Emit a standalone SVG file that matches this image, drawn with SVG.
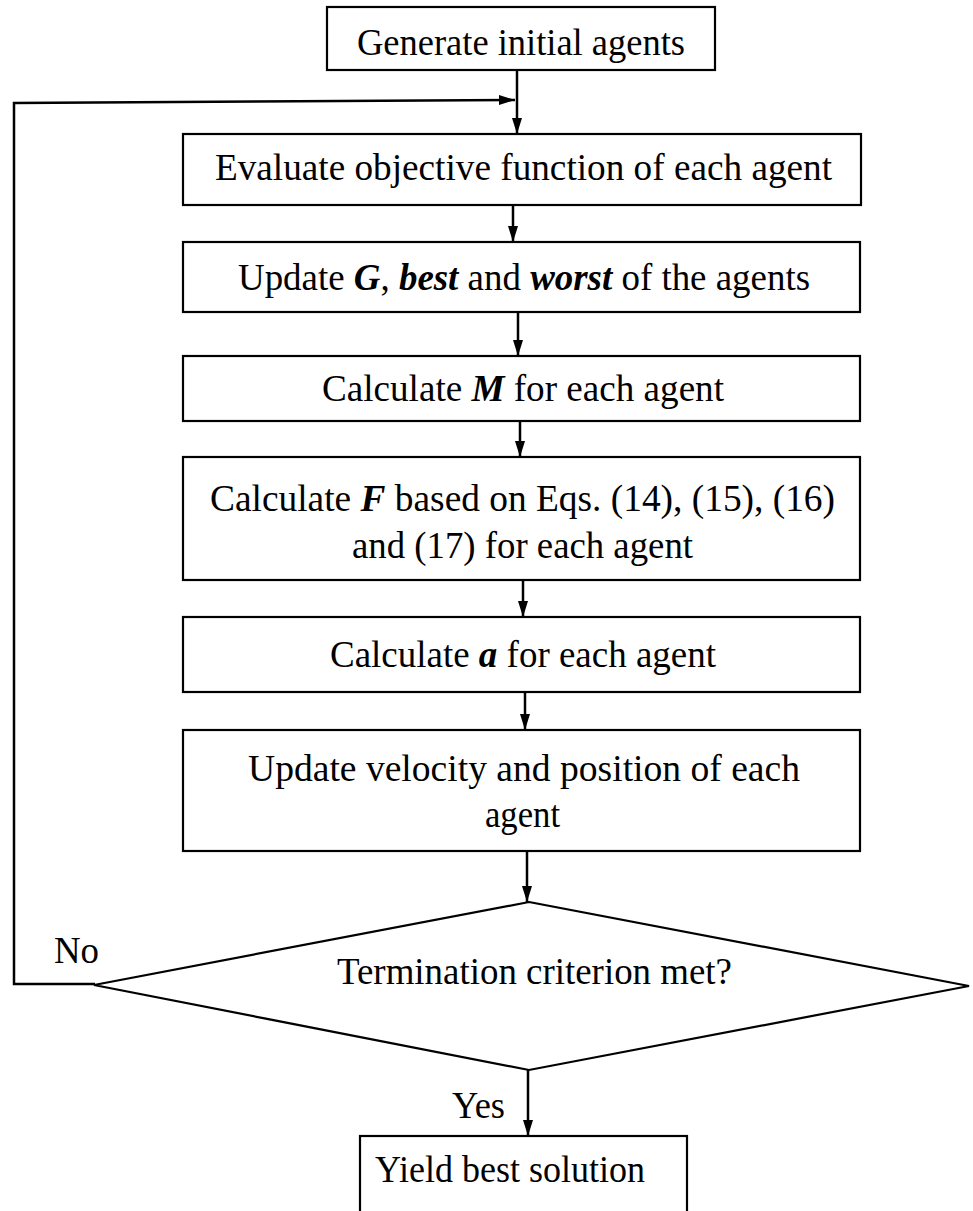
<svg xmlns="http://www.w3.org/2000/svg" width="973" height="1211" viewBox="0 0 973 1211">
<style>
.box{fill:#fff;stroke:#000;stroke-width:2.2}
.t{font-family:"Liberation Serif","Times New Roman",serif;font-size:37px;fill:#000}
.c{fill:none;stroke:#000;stroke-width:2.5}
.bi{font-weight:bold;font-style:italic}
</style>
<defs>
<marker id="ah" markerUnits="userSpaceOnUse" markerWidth="16" markerHeight="14" viewBox="0 0 16 14" refX="16" refY="7" orient="auto">
<path d="M0,2 L16,7 L0,12 Z" fill="#000"/>
</marker>
</defs>
<rect width="973" height="1211" fill="#fff"/>
<g id="connectors">
<line class="c" x1="517" y1="70" x2="517" y2="134" marker-end="url(#ah)"/>
<polyline class="c" points="95,984 14,984 14,103 515,100" marker-end="url(#ah)"/>
<line class="c" x1="513" y1="205" x2="513" y2="242" marker-end="url(#ah)"/>
<line class="c" x1="518" y1="312" x2="518" y2="356" marker-end="url(#ah)"/>
<line class="c" x1="520" y1="421" x2="520" y2="457" marker-end="url(#ah)"/>
<line class="c" x1="523" y1="580" x2="523" y2="617" marker-end="url(#ah)"/>
<line class="c" x1="525" y1="692" x2="525" y2="730" marker-end="url(#ah)"/>
<line class="c" x1="527" y1="851" x2="527" y2="902" marker-end="url(#ah)"/>
<line class="c" x1="528" y1="1070" x2="528" y2="1136" marker-end="url(#ah)"/>
<text class="t" x="54" y="963" textLength="45" lengthAdjust="spacingAndGlyphs">No</text>
<text class="t" x="452" y="1118" textLength="53" lengthAdjust="spacingAndGlyphs">Yes</text>
</g>
<g id="n1">
<rect class="box" x="327" y="7" width="388" height="63"/>
<text class="t" x="357" y="55" textLength="328" lengthAdjust="spacingAndGlyphs">Generate  initial  agents</text>
</g>
<g id="n2">
<rect class="box" x="183" y="134" width="678" height="71"/>
<text class="t" x="215" y="180" textLength="617" lengthAdjust="spacingAndGlyphs">Evaluate  objective  function  of each agent</text>
</g>
<g id="n3">
<rect class="box" x="183" y="242" width="677" height="70"/>
<text class="t" x="238" y="290" textLength="572" lengthAdjust="spacingAndGlyphs">Update <tspan class="bi">G</tspan>, <tspan class="bi">best</tspan> and <tspan class="bi">worst</tspan> of the agents</text>
</g>
<g id="n4">
<rect class="box" x="183" y="356" width="677" height="65"/>
<text class="t" x="322" y="401" textLength="402" lengthAdjust="spacingAndGlyphs">Calculate  <tspan class="bi">M</tspan> for each agent</text>
</g>
<g id="n5">
<rect class="box" x="183" y="457" width="677" height="123"/>
<text class="t" x="210" y="511" textLength="625" lengthAdjust="spacingAndGlyphs">Calculate  <tspan class="bi">F</tspan> based on Eqs. (14), (15), (16)</text>
<text class="t" x="352" y="558" textLength="341" lengthAdjust="spacingAndGlyphs">and (17) for each agent</text>
</g>
<g id="n6">
<rect class="box" x="183" y="617" width="677" height="75"/>
<text class="t" x="330" y="667" textLength="386" lengthAdjust="spacingAndGlyphs">Calculate  <tspan class="bi">a</tspan> for each agent</text>
</g>
<g id="n7">
<rect class="box" x="183" y="730" width="677" height="121"/>
<text class="t" x="248" y="781" textLength="552" lengthAdjust="spacingAndGlyphs">Update velocity  and position  of each</text>
<text class="t" x="485" y="827" textLength="75" lengthAdjust="spacingAndGlyphs">agent</text>
</g>
<g id="n8">
<polygon class="box" points="529,902 969,986 529,1070 94,985"/>
<text class="t" x="337" y="984" textLength="395" lengthAdjust="spacingAndGlyphs">Termination  criterion  met?</text>
</g>
<g id="n9">
<rect class="box" x="360" y="1136" width="327" height="85"/>
<text class="t" x="375" y="1182" textLength="270" lengthAdjust="spacingAndGlyphs">Yield  best solution</text>
</g>
</svg>
